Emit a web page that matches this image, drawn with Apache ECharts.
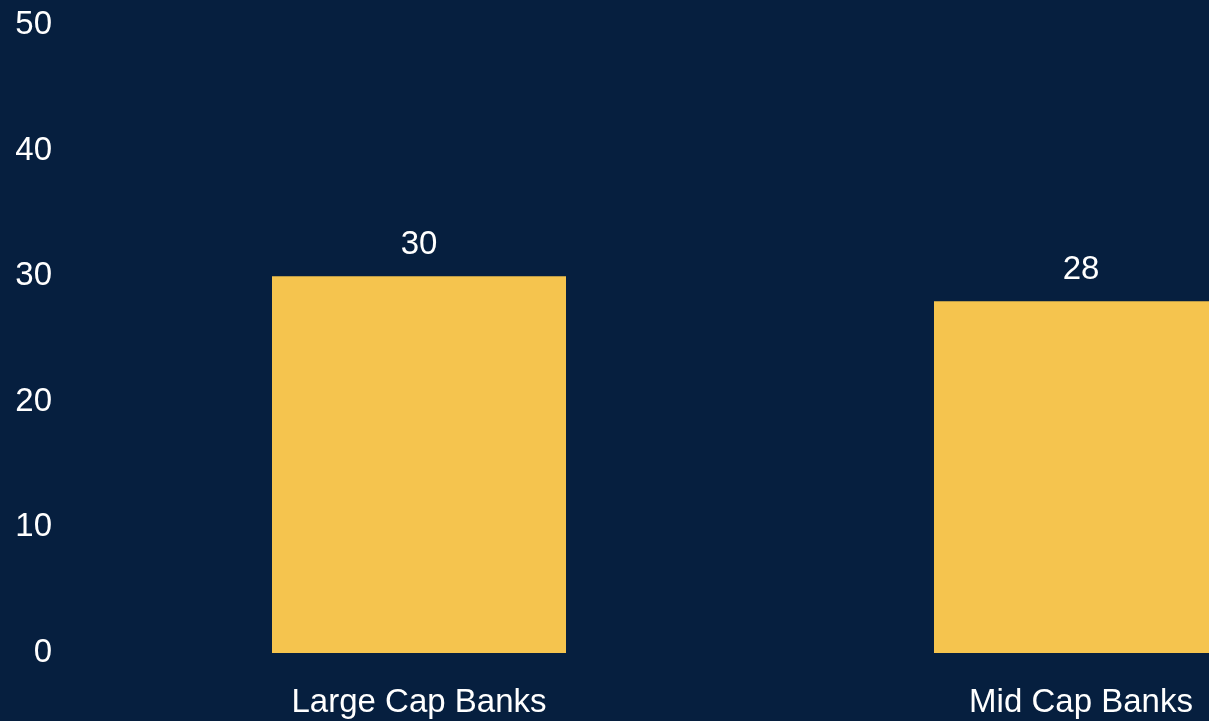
<!DOCTYPE html>
<html>
<head>
<meta charset="utf-8">
<script src="https://cdn.jsdelivr.net/npm/echarts@6/dist/echarts.min.js"></script>
<style>
html,body{margin:0;padding:0;background:#061f3f;}
#chart{width:1209px;height:721px;}
</style>
</head>
<body>
<div id="chart"></div>
<script>
const categories = ["Large Cap Banks", "Mid Cap Banks"];
const values = [30, 28];
const yMin = 0, yMax = 50, yInterval = 10;

const chart = echarts.init(document.getElementById('chart'), null, {renderer: 'canvas'});
const font = 'Liberation Sans, Arial, sans-serif';
chart.setOption({
  backgroundColor: '#061f3f',
  animation: false,
  grid: {left: 88, top: 25, width: 1324, height: 628, containLabel: false, outerBoundsMode: 'none'},
  xAxis: {
    type: 'category',
    data: categories,
    axisLine: {show: false},
    axisTick: {show: false},
    axisLabel: {color: '#ffffff', fontSize: 33, fontFamily: font, margin: 33}
  },
  yAxis: {
    type: 'value',
    min: yMin, max: yMax, interval: yInterval,
    axisLine: {show: false},
    axisTick: {show: false},
    splitLine: {show: false},
    axisLabel: {color: '#ffffff', fontSize: 33, fontFamily: font, margin: 36, padding: [4, 0, 0, 0]}
  },
  series: [{
    type: 'bar',
    data: values,
    barWidth: 294,
    itemStyle: {color: '#F5C44E'},
    label: {show: true, position: 'top', distance: 15, color: '#ffffff', fontSize: 33, fontFamily: font}
  }]
});
</script>
</body>
</html>
